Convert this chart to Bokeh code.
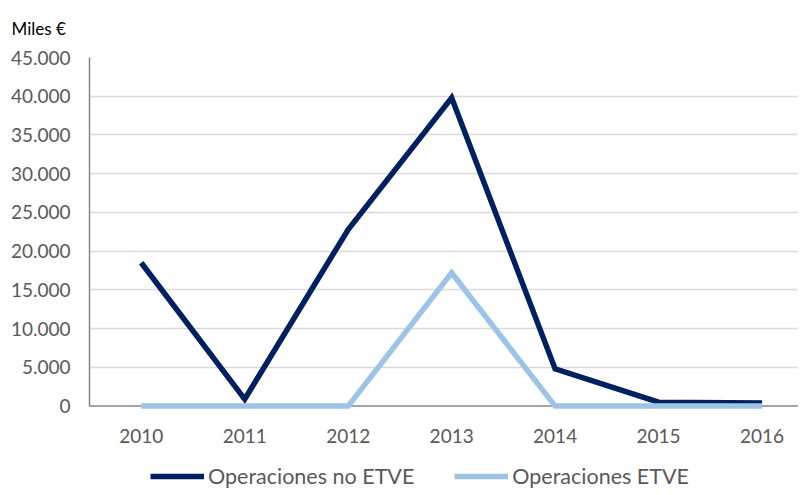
from bokeh.plotting import figure
from bokeh.layouts import column
from bokeh.models import Range1d, FixedTicker, Legend, LegendItem, Span, Title, LinearAxis
from bokeh.embed import file_html
from bokeh.resources import INLINE

years = ["2010", "2011", "2012", "2013", "2014", "2015", "2016"]
no_etve = [18500, 900, 22800, 39800, 4800, 500, 400]
etve = [0, 0, 0, 17200, 0, 0, 0]
y_ticks = [0, 5000, 10000, 15000, 20000, 25000, 30000, 35000, 40000, 45000]
y_tick_labels = ["0", "5.000", "10.000", "15.000", "20.000", "25.000", "30.000", "35.000", "40.000", "45.000"]
unit_label = "Miles €"
series_names = ["Operaciones no ETVE", "Operaciones ETVE"]

FONT = "Lato"
GRAY = "#595959"
DARK = "#002060"
LIGHT = "#9DC3E6"

xs = list(range(len(years)))
XR = (-0.5, 6.352)

p = figure(width=798, height=451, output_backend="svg", toolbar_location=None,
           x_range=Range1d(*XR), y_range=Range1d(-700, 45000),
           min_border_left=89, min_border_right=0, min_border_top=57, min_border_bottom=40,
           x_axis_location=None, y_axis_location=None)
p.outline_line_color = None
p.background_fill_color = "white"
p.border_fill_color = "white"

p.add_layout(Title(text=unit_label, align="left", offset=-78, standoff=33, vertical_align="top",
                   text_font=FONT, text_font_size="17px", text_font_style="normal",
                   text_color="black"), "above")

# y axis
yax = LinearAxis(bounds=(0, 45000))
yax.ticker = FixedTicker(ticks=y_ticks)
yax.major_label_overrides = {t: l for t, l in zip(y_ticks, y_tick_labels)}
yax.axis_line_color = "#868686"
yax.axis_line_width = 1.5
yax.major_tick_line_color = None
yax.minor_tick_line_color = None
yax.major_label_text_font = FONT
yax.major_label_text_font_size = "19px"
yax.major_label_text_color = GRAY
yax.major_label_standoff = 13
p.add_layout(yax, "left")

# x axis
xax = LinearAxis()
xax.ticker = FixedTicker(ticks=xs)
xax.major_label_overrides = {i: y for i, y in zip(xs, years)}
xax.axis_line_color = None
xax.major_tick_line_color = None
xax.minor_tick_line_color = None
xax.major_label_text_font = FONT
xax.major_label_text_font_size = "19px"
xax.major_label_text_color = GRAY
xax.major_label_standoff = 11
p.add_layout(xax, "below")

p.xgrid.grid_line_color = None
p.ygrid.ticker = FixedTicker(ticks=y_ticks[1:])
p.ygrid.grid_line_color = "#d9d9d9"
p.ygrid.grid_line_width = 1.5

p.add_layout(Span(location=0, dimension="width", line_color="#868686", line_width=1.5, level="underlay"))

p.line(xs, no_etve, line_color=DARK, line_width=5.5, line_join="miter")
p.line(xs, etve, line_color=LIGHT, line_width=5.5, line_join="miter")

# legend strip (own figure so the legend is not clipped by the main frame)
leg = figure(width=798, height=38, output_backend="svg", toolbar_location=None,
             x_range=Range1d(*XR), y_range=Range1d(1e6, 2e6),
             min_border_left=89, min_border_right=0, min_border_top=0, min_border_bottom=0,
             x_axis_location=None, y_axis_location=None)
leg.outline_line_color = None
leg.xgrid.grid_line_color = None
leg.ygrid.grid_line_color = None
lr1 = leg.line(xs, no_etve, line_color=DARK, line_width=5.5)
lr2 = leg.line(xs, etve, line_color=LIGHT, line_width=5.5)

lg = Legend(items=[LegendItem(label=series_names[0], renderers=[lr1]),
                   LegendItem(label=series_names[1], renderers=[lr2])],
            location=(61, 0), orientation="horizontal", padding=0, margin=0, spacing=40,
            glyph_width=54, glyph_height=24, label_standoff=4, label_height=24,
            label_text_font=FONT, label_text_font_size="21.5px", label_text_color=GRAY,
            background_fill_alpha=0, border_line_color=None)
leg.add_layout(lg, "center")

layout = column(p, leg, spacing=0)

with open("out.html", "w") as f:
    f.write(file_html(layout, INLINE))
